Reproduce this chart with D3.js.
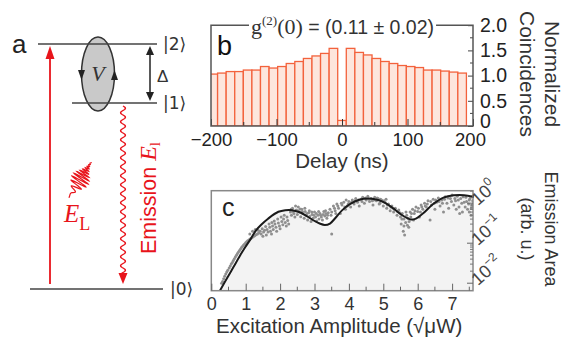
<!DOCTYPE html>
<html>
<head>
<meta charset="utf-8">
<script src="https://cdn.jsdelivr.net/npm/d3@7"></script>
<style>
  body { margin: 0; background: #fff; }
  svg { display: block; font-family: "Liberation Sans", Arial, sans-serif; }
</style>
</head>
<body>
<svg id="fig" width="565" height="343"></svg>
<script>
// panel b: coincidence histogram
const delays = [-196.5, -183.4, -170.3, -157.2, -144.1, -131.0, -117.9, -104.8, -91.7, -78.6,
  -65.5, -52.4, -39.3, -26.2, -13.1, 0, 13.1, 26.2, 39.3, 52.4, 65.5, 78.6, 91.7, 104.8,
  117.9, 131.0, 144.1, 157.2, 170.3, 183.4];
const coincidences = [1.03, 1.05, 1.08, 1.08, 1.11, 1.11, 1.18, 1.15, 1.18, 1.24,
  1.28, 1.34, 1.39, 1.44, 1.54, 0.11, 1.54, 1.46, 1.41, 1.34, 1.28, 1.24, 1.20, 1.18,
  1.16, 1.11, 1.11, 1.09, 1.07, 1.05];
const binWidth = 13.1;
const delayTicks = [-200, -100, 0, 100, 200];
const coincTicks = [0, 0.5, 1.0, 1.5, 2.0];

// panel c: emission area vs excitation amplitude
const fitAmp = [0.25, 0.49, 0.64, 0.87, 0.98, 1.15, 1.30, 1.45, 1.65, 1.95, 2.15, 2.35, 2.55,
  2.75, 2.95, 3.15, 3.3, 3.45, 3.6, 3.8, 4.03, 4.3, 4.6, 4.85, 5.05, 5.3, 5.55, 5.8, 5.95,
  6.15, 6.45, 6.75, 7.05, 7.35, 7.6];
const fitArea = [0.0065, 0.015, 0.025, 0.055, 0.078, 0.13, 0.21, 0.29, 0.41, 0.61, 0.67, 0.67,
  0.60, 0.49, 0.38, 0.31, 0.285, 0.31, 0.42, 0.66, 0.95, 1.22, 1.31, 1.2, 1.02, 0.73, 0.5,
  0.39, 0.41, 0.55, 0.95, 1.38, 1.57, 1.58, 1.45];
const measured = [
  [0.30,0.010],[0.33,0.011],[0.36,0.013],[0.39,0.015],[0.42,0.017],[0.45,0.019],[0.48,0.021],
  [0.52,0.024],[0.55,0.027],[0.58,0.030],[0.61,0.033],[0.64,0.037],[0.67,0.041],[0.70,0.045],
  [0.73,0.050],[0.76,0.055],[0.79,0.060],[0.82,0.066],[0.85,0.072],[0.88,0.078],[0.91,0.084],
  [0.94,0.090],[0.97,0.096],[1.00,0.102],[1.03,0.108],[1.06,0.115],[1.10,0.122],[1.14,0.13],
  [1.18,0.137],[1.22,0.145],[1.26,0.153],[1.30,0.162],[1.34,0.17],[1.38,0.18],
  [1.12,0.17],[1.20,0.20],[1.28,0.22],[1.36,0.21],
  [1.45,0.17],[1.50,0.15],[1.52,0.19],[1.55,0.21],[1.60,0.16],[1.62,0.22],[1.65,0.19],[1.70,0.25],
  [1.72,0.20],[1.75,0.17],[1.78,0.27],[1.80,0.22],[1.85,0.30],[1.88,0.25],[1.90,0.20],[1.95,0.32],
  [1.98,0.27],[2.00,0.23],[2.05,0.35],[2.08,0.29],[2.10,0.40],[2.15,0.33],[2.20,0.45],[2.22,0.37],
  [2.25,0.30],
  [1.42,0.20],[1.48,0.23],[1.58,0.26],[1.68,0.30],[1.76,0.33],[1.83,0.36],[1.93,0.40],[2.03,0.45],
  [2.12,0.50],[2.18,0.27],
  [2.30,0.60],[2.33,0.50],[2.36,0.75],[2.40,0.55],[2.43,0.45],[2.47,0.68],[2.50,0.52],[2.53,0.80],
  [2.56,0.60],[2.60,0.46],[2.63,0.70],[2.66,0.55],[2.70,0.42],[2.73,0.62],[2.76,0.50],[2.80,0.38],
  [2.83,0.58],[2.86,0.47],[2.90,0.35],[2.93,0.52],[2.96,0.42],[3.00,0.60],[3.03,0.45],[3.06,0.36],
  [3.10,0.50],[3.13,0.40],[3.16,0.55],[3.20,0.45],[3.23,0.38],[3.27,0.62],[3.30,0.48],[3.33,0.55],
  [3.36,0.42],[3.40,0.58],[3.50,0.17],
  [2.32,0.70],[2.38,0.62],[2.45,0.85],[2.52,0.65],[2.58,0.72],[2.65,0.62],[2.72,0.75],[2.78,0.55],
  [2.85,0.65],[2.92,0.60],[2.98,0.50],[3.05,0.55],[3.12,0.62],[3.18,0.50],[3.25,0.52],[3.32,0.65],
  [3.38,0.50],
  [3.45,0.70],[3.50,0.60],[3.55,0.85],[3.60,0.65],[3.65,0.95],[3.70,0.75],[3.75,0.55],[3.80,0.90],
  [3.85,1.05],[3.90,0.70],[3.95,0.85],[4.00,1.10],[4.05,0.80],[4.10,1.20],[4.15,0.95],[4.20,1.30],
  [4.25,1.05],[4.30,0.85],[4.35,1.25],[4.40,1.40],[4.45,1.00],[4.50,1.20],[4.55,1.50],[4.60,1.10],
  [4.65,1.30],[4.70,0.90],
  [3.48,0.50],[3.58,0.75],[3.68,0.85],[3.78,1.00],[3.88,0.80],[3.98,0.95],[4.08,1.05],[4.18,1.15],
  [4.28,1.20],[4.38,1.10],[4.48,1.35],[4.58,1.25],[4.68,1.15],[3.62,0.55],[3.92,1.20],
  [4.75,1.40],[4.80,1.15],[4.85,1.30],[4.90,1.00],[4.95,1.20],[5.00,0.85],[5.05,1.05],[5.10,0.75],
  [5.15,0.95],[5.20,0.65],[5.25,0.85],[5.30,0.60],[5.35,0.75],[5.40,0.50],[5.45,0.68],[5.50,0.45],
  [5.52,0.30],[5.55,0.55],
  [4.72,1.20],[4.82,1.35],[4.92,1.25],[5.02,1.15],[5.12,0.90],[5.22,0.80],[5.32,0.70],[5.42,0.62],
  [5.48,0.58],[4.88,0.95],[5.08,1.25],
  [5.58,0.20],[5.60,0.40],[5.62,0.16],[5.65,0.33],[5.68,0.50],[5.70,0.28],[5.72,0.42],[5.75,0.35],
  [5.78,0.60],[5.80,0.45],[5.85,0.70],[5.90,0.55],[5.95,0.80],[6.00,0.62],[6.05,0.45],[6.10,0.90],
  [5.54,0.40],[5.66,0.60],[5.74,0.25],[5.82,0.55],[5.88,0.38],[5.92,0.65],[6.02,0.75],[6.08,0.60],
  [5.60,0.27],
  [6.15,0.70],[6.20,1.00],[6.25,0.80],[6.30,1.15],[6.36,0.38],[6.40,0.90],[6.45,1.25],[6.50,0.70],
  [6.55,1.05],[6.60,1.35],[6.65,0.85],[6.70,1.20],[6.75,0.60],[6.80,1.45],[6.85,1.00],[6.90,0.75],
  [6.95,1.30],[7.00,1.60],[7.05,0.90],[7.10,1.15],[7.15,1.50],[7.20,0.80],[7.25,1.30],[7.30,0.60],
  [7.35,1.05],[7.40,1.40],[7.45,0.70],[7.50,1.20],[7.55,0.50],[7.58,0.90],[7.60,1.50],
  [6.12,0.80],[6.22,0.85],[6.28,0.95],[6.38,1.10],[6.48,1.00],[6.52,1.20],[6.62,1.10],[6.72,1.00],
  [6.78,1.25],[6.88,1.35],[6.98,1.10],[7.08,1.30],[7.12,0.70],[7.18,1.20],[7.28,1.00],[7.32,1.45],
  [7.38,0.80],[7.42,1.10],[7.48,0.95],[7.52,1.30],[7.56,0.75],[7.60,1.15],[7.22,0.55],[7.50,0.60]
];
const ampTicks = [0, 1, 2, 3, 4, 5, 6, 7];
const areaTicks = [1, 0.1, 0.01];
const areaTickExp = ["0", "\u22121", "\u22122"];

const svg = d3.select("#fig");
const SANS = '"Liberation Sans", Arial, sans-serif';
const SERIF = '"Liberation Serif", "Times New Roman", serif';
const RED = "#e8141b";

// ---------------- panel a (level scheme) ----------------
const a = svg.append("g");
a.append("text").attr("x", 12).attr("y", 53).attr("font-size", 26).attr("fill", "#222").text("a");

const levels = [
  {y: 44, x1: 38, x2: 157, label: "|2\u27E9", lx: 163},
  {y: 103, x1: 72, x2: 157, label: "|1\u27E9", lx: 163},
  {y: 289, x1: 30, x2: 163, label: "|0\u27E9", lx: 170}
];

// coupling ellipse first so lines run over it
a.append("ellipse").attr("cx", 98).attr("cy", 74).attr("rx", 16.5).attr("ry", 37)
  .attr("fill", "#c9c9c9").attr("stroke", "#333").attr("stroke-width", 1.5);
levels.forEach(l => {
  a.append("line").attr("x1", l.x1).attr("x2", l.x2).attr("y1", l.y).attr("y2", l.y)
    .attr("stroke", "#444").attr("stroke-width", 1.5);
  a.append("text").attr("x", l.lx).attr("y", l.y + 6).attr("font-size", 17).attr("fill", "#333")
    .attr("font-family", '"DejaVu Sans", sans-serif').text(l.label);
});
// arrowheads on the ellipse (circulation)
a.append("path").attr("d", "M78,70 L85,70 L81.5,80 Z").attr("fill", "#222");
a.append("path").attr("d", "M111,80 L118,80 L114.5,70 Z").attr("fill", "#222");
a.append("text").attr("x", 98).attr("y", 81).attr("text-anchor", "middle")
  .attr("font-family", SERIF).attr("font-style", "italic").attr("font-size", 22).attr("fill", "#333").text("V");

// Delta double arrow
a.append("line").attr("x1", 150).attr("x2", 150).attr("y1", 52).attr("y2", 95).attr("stroke", "#222").attr("stroke-width", 1.5);
a.append("path").attr("d", "M146,55 L154,55 L150,46 Z").attr("fill", "#222");
a.append("path").attr("d", "M146,92 L154,92 L150,101 Z").attr("fill", "#222");
a.append("text").attr("x", 157).attr("y", 82).attr("font-size", 17).attr("fill", "#333").text("\u0394");

// excitation arrow
a.append("line").attr("x1", 50).attr("x2", 50).attr("y1", 284).attr("y2", 56).attr("stroke", RED).attr("stroke-width", 1.8);
a.append("path").attr("d", "M45.5,59 L54.5,59 L50,46 Z").attr("fill", RED);

// laser pulse glyph
const pulse = d3.path();
const pcx = 80, pcy = 180, ang = -58 * Math.PI / 180;
for (let i = 0; i <= 200; i++) {
  const t = -1 + i / 100;
  const env = Math.exp(-t * t * 3.5);
  const off = 9 * env * Math.sin(2 * Math.PI * (6 + 2.5 * t) * t);
  const s = t * 21;
  const px = pcx + s * Math.cos(ang) - off * Math.sin(ang);
  const py = pcy + s * Math.sin(ang) + off * Math.cos(ang);
  if (i === 0) pulse.moveTo(px, py); else pulse.lineTo(px, py);
}
a.append("path").attr("d", pulse.toString()).attr("fill", "none").attr("stroke", RED).attr("stroke-width", 1.2);
const el = a.append("text").attr("x", 64).attr("y", 222).attr("fill", RED).attr("font-family", SERIF).attr("font-size", 25);
el.append("tspan").attr("font-style", "italic").text("E");
el.append("tspan").attr("font-size", 18).attr("dy", 8).text("L");

// emission wavy arrow
const wave = d3.path();
for (let yy = 106; yy <= 274; yy += 0.5) {
  const xx = 123 + 2.4 * Math.sin(2 * Math.PI * (yy - 106) / 9);
  if (yy === 106) wave.moveTo(xx, yy); else wave.lineTo(xx, yy);
}
a.append("path").attr("d", wave.toString()).attr("fill", "none").attr("stroke", RED).attr("stroke-width", 1.4);
a.append("path").attr("d", "M118.5,273 L127.5,273 L123,284 Z").attr("fill", RED);
const em = a.append("text").attr("transform", "translate(156,254) rotate(-90)")
  .attr("fill", RED).attr("font-size", 21.5);
em.append("tspan").text("Emission ");
em.append("tspan").attr("font-family", SERIF).attr("font-style", "italic").attr("font-size", 24).text("E");
em.append("tspan").attr("font-family", SERIF).attr("font-size", 15).attr("dy", 4).text("l");

// ---------------- panel b (histogram) ----------------
const bL = 211, bR = 473, bT = 25.2, bB = 126;
const xb = d3.scaleLinear().domain([-200, 200]).range([bL, bR]);
const yb = d3.scaleLinear().domain([0, 2]).range([bB, bT]);

svg.append("clipPath").attr("id", "clipb").append("rect")
  .attr("x", bL).attr("y", 0).attr("width", bR - bL).attr("height", bB);

svg.append("g").attr("clip-path", "url(#clipb)")
  .selectAll("rect").data(delays).join("rect")
  .attr("x", (d) => xb(d - binWidth / 2))
  .attr("width", (d) => xb(d + binWidth / 2) - xb(d - binWidth / 2))
  .attr("y", (d, i) => yb(coincidences[i]))
  .attr("height", (d, i) => bB - yb(coincidences[i]))
  .attr("fill", "#fde6dd").attr("stroke", "#f3623c").attr("stroke-width", 1.3);

const FRAME_B = "#555";
// bottom axis, inward ticks
const gbx = svg.append("g").attr("transform", `translate(0,${bB})`)
  .call(d3.axisBottom(xb).tickValues(delayTicks).tickSize(-7).tickPadding(7));
gbx.select(".domain").remove();
gbx.selectAll("line").attr("stroke", "#333");
gbx.selectAll("text").attr("font-size", 18.5).attr("font-family", SANS).attr("fill", "#222")
  .attr("dx", d => d === 200 ? -3 : 0);
svg.append("g").selectAll("line").data([-150, -50, 50, 150]).join("line")
  .attr("x1", d => xb(d)).attr("x2", d => xb(d)).attr("y1", bB).attr("y2", bB - 4).attr("stroke", "#333");

// right axis, inward ticks
const gby = svg.append("g").attr("transform", `translate(${bR},0)`)
  .call(d3.axisRight(yb).tickValues(coincTicks).tickSize(-5).tickPadding(7)
    .tickFormat(d => d === 0 ? "0" : d3.format(".1f")(d)));
gby.select(".domain").remove();
gby.selectAll("line").attr("stroke", "#444");
gby.selectAll("text").attr("font-size", 19.5).attr("font-family", SANS).attr("fill", "#222")
  .attr("dy", d => d === 0 ? "0.1em" : "0.32em");
svg.append("g").selectAll("line").data([0.25, 0.75, 1.25, 1.75]).join("line")
  .attr("x1", bR).attr("x2", bR - 3).attr("y1", d => yb(d)).attr("y2", d => yb(d)).attr("stroke", "#444");

// frame with a gap for the g2 label
const g2 = svg.append("text").attr("x", 251).attr("y", 34).attr("fill", "#333").attr("font-size", 19.5);
g2.append("tspan").attr("font-family", SERIF).attr("font-size", 22).text("g");
g2.append("tspan").attr("font-family", SERIF).attr("font-size", 13).attr("dy", -9).text("(2)");
g2.append("tspan").attr("font-family", SERIF).attr("font-size", 22).attr("dy", 9).text("(0)");
g2.append("tspan").attr("font-family", SANS).text(" = (0.11 \u00B1 0.02)");
const g2box = g2.node().getBBox();
svg.append("path")
  .attr("d", `M${g2box.x - 2},${bT} H${bL} V${bB} H${bR} V${bT} H${g2box.x + g2box.width + 2}`)
  .attr("fill", "none").attr("stroke", FRAME_B).attr("stroke-width", 1.5);
svg.append("text").attr("x", 217).attr("y", 55).attr("font-size", 27).attr("fill", "#111").text("b");

svg.append("text").attr("x", xb(0)).attr("y", 168).attr("text-anchor", "middle")
  .attr("font-size", 20.5).attr("fill", "#333").text("Delay (ns)");
const ylab = svg.append("text").attr("transform", `translate(545,74) rotate(90)`)
  .attr("text-anchor", "middle").attr("font-size", 21).attr("fill", "#333");
ylab.append("tspan").attr("x", 0).attr("y", 0).text("Normalized");
ylab.append("tspan").attr("x", 0).attr("y", 25).text("Coincidences");

// ---------------- panel c (Rabi oscillations) ----------------
const cL = 211.3, cR = 473, cT = 190.7, cB = 290.7;
const xc = d3.scaleLinear().domain([0, (cR - cL) / 34.4]).range([cL, cR]);
const yc = d3.scaleLog().domain([0.0065, 2.05]).range([cB, cT]);

svg.append("clipPath").attr("id", "clipc").append("rect")
  .attr("x", cL).attr("y", cT).attr("width", cR - cL).attr("height", cB - cT);
const gc = svg.append("g").attr("clip-path", "url(#clipc)");
const fit = fitAmp.map((d, i) => [d, fitArea[i]]);
gc.append("path").datum(fit)
  .attr("d", d3.area().x(d => xc(d[0])).y0(cB).y1(d => yc(d[1])).curve(d3.curveCatmullRom))
  .attr("fill", "#f3f3f3");
gc.selectAll("circle").data(measured).join("circle")
  .attr("cx", d => xc(d[0])).attr("cy", d => yc(d[1])).attr("r", 1.5).attr("fill", "#8f8f8f");
gc.append("path").datum(fit)
  .attr("d", d3.line().x(d => xc(d[0])).y(d => yc(d[1])).curve(d3.curveCatmullRom))
  .attr("fill", "none").attr("stroke", "#1a1a1a").attr("stroke-width", 2);

svg.append("rect").attr("x", cL).attr("y", cT).attr("width", cR - cL).attr("height", cB - cT)
  .attr("fill", "none").attr("stroke", "#888").attr("stroke-width", 1.5);

const gcx = svg.append("g").attr("transform", `translate(0,${cB})`)
  .call(d3.axisBottom(xc).tickValues(ampTicks).tickSize(-7).tickPadding(6.5));
gcx.select(".domain").remove();
gcx.selectAll("line").attr("stroke", "#666");
gcx.selectAll("text").attr("font-size", 18).attr("font-family", SANS).attr("fill", "#333");
svg.append("g").selectAll("line").data([0.5, 1.5, 2.5, 3.5, 4.5, 5.5, 6.5, 7.5]).join("line")
  .attr("x1", d => xc(d)).attr("x2", d => xc(d)).attr("y1", cB).attr("y2", cB - 4).attr("stroke", "#666");

// log ticks on the right edge
const minor = [];
[0.01, 0.1, 1].forEach(dec => { for (let m = 2; m <= 9; m++) if (dec * m < 2.05) minor.push(dec * m); });
svg.append("g").selectAll("line").data(minor).join("line")
  .attr("x1", cR).attr("x2", cR - 3).attr("y1", d => yc(d)).attr("y2", d => yc(d)).attr("stroke", "#777");
svg.append("g").selectAll("line").data(areaTicks).join("line")
  .attr("x1", cR).attr("x2", cR - 6).attr("y1", d => yc(d)).attr("y2", d => yc(d)).attr("stroke", "#666");
areaTicks.forEach((d, i) => {
  const t = svg.append("text").attr("transform", `translate(478,${yc(d) + 3}) rotate(-42)`)
    .attr("font-size", 18).attr("fill", "#444");
  t.append("tspan").text("10");
  t.append("tspan").attr("font-size", 12).attr("dy", -8).text(areaTickExp[i]);
});

svg.append("text").attr("x", 222).attr("y", 216).attr("font-size", 25).attr("fill", "#222").text("c");
svg.append("text").attr("x", (cL + cR) / 2 - 3).attr("y", 333).attr("text-anchor", "middle")
  .attr("font-size", 20.5).attr("fill", "#333").text("Excitation Amplitude (\u221A\u03BCW)");
const clab = svg.append("text").attr("transform", `translate(545,229) rotate(90)`)
  .attr("text-anchor", "middle").attr("font-size", 18).attr("fill", "#333");
clab.append("tspan").attr("x", 0).attr("y", 0).text("Emission Area");
clab.append("tspan").attr("x", 0).attr("y", 24).text("(arb. u.)");
</script>
</body>
</html>
